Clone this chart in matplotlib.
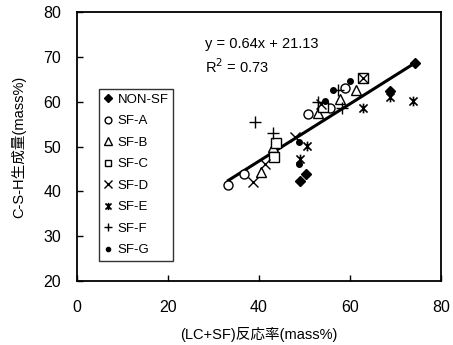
import numpy as np
import matplotlib
matplotlib.use('Agg')
import matplotlib.pyplot as plt
from matplotlib.path import Path

plt.rcParams['font.family'] = ['Liberation Sans', 'Noto Sans CJK JP', 'DejaVu Sans']

# Data: (LC+SF) reaction rate vs C-S-H amount
nonsf_x = [74.3, 68.75, 49.1, 50.3]
nonsf_y = [68.7, 62.4, 42.4, 43.8]
sfa_x = [33.3, 36.7, 50.7, 55.6, 58.9]
sfa_y = [41.4, 43.8, 57.2, 58.5, 63.0]
sfb_x = [40.4, 43.0, 52.9, 57.8, 61.3]
sfb_y = [44.4, 49.9, 57.4, 60.7, 62.6]
sfc_x = [43.4, 43.8, 54.1, 62.9]
sfc_y = [47.6, 50.9, 58.9, 65.3]
sfd_x = [38.6, 41.3, 47.9, 53.6, 62.9]
sfd_y = [42.1, 46.0, 52.2, 59.4, 65.3]
sfe_x = [49.0, 50.5, 62.9, 68.75, 73.9]
sfe_y = [47.3, 50.2, 58.5, 61.1, 60.2]
sff_x = [39.1, 43.2, 53.0, 57.4, 58.2]
sff_y = [55.4, 53.1, 60.0, 62.6, 58.6]
sfg_x = [48.9, 48.9, 54.6, 56.3, 60.0]
sfg_y = [46.1, 51.1, 60.2, 62.6, 64.6]

slope = 0.64
intercept = 21.13
r2 = 0.73

# X with a vertical bar through it (asterisk-like marker)
star_path = Path([(-1, -1), (1, 1), (-1, 1), (1, -1), (0, -1.2), (0, 1.2)],
                 [Path.MOVETO, Path.LINETO, Path.MOVETO, Path.LINETO,
                  Path.MOVETO, Path.LINETO])

fig = plt.figure(figsize=(4.53, 3.45), dpi=100)
ax = fig.add_axes([0.169, 0.1855, 0.805, 0.7795])

series = [
    ('NON-SF', nonsf_x, nonsf_y, dict(marker='D', ms=5.5, mfc='black', mec='black')),
    ('SF-A', sfa_x, sfa_y, dict(marker='o', ms=6.5, mfc='white', mec='black', mew=1.0)),
    ('SF-B', sfb_x, sfb_y, dict(marker='^', ms=7.5, mfc='white', mec='black', mew=1.0)),
    ('SF-C', sfc_x, sfc_y, dict(marker='s', ms=6.5, mfc='white', mec='black', mew=1.0)),
    ('SF-D', sfd_x, sfd_y, dict(marker='x', ms=7, mec='black', mew=1.0)),
    ('SF-E', sfe_x, sfe_y, dict(marker=star_path, ms=7, mfc='none', mec='black', mew=1.2)),
    ('SF-F', sff_x, sff_y, dict(marker='+', ms=8, mec='black', mew=1.0)),
    ('SF-G', sfg_x, sfg_y, dict(marker='o', ms=4, mfc='black', mec='black')),
]

for name, xs, ys, style in series:
    ax.plot(xs, ys, linestyle='none', label=name, **style)

# Regression line across the data range
all_x = np.concatenate([s[1] for s in series])
fit_x = np.array([all_x.min(), all_x.max()])
ax.plot(fit_x, slope * fit_x + intercept, color='black', lw=2.2, zorder=1)

ax.text(28.2, 72.0, f'y = {slope:.2f}x + {intercept:.2f}', fontsize=10.5)
ax.text(28.2, 66.4, f'R$^2$ = {r2:.2f}', fontsize=10.5)

ax.set_xlim(0, 80)
ax.set_ylim(20, 80)
ax.set_xticks([0, 20, 40, 60, 80])
ax.set_yticks([20, 30, 40, 50, 60, 70, 80])
ax.tick_params(direction='in', length=4, width=1, labelsize=11.5)
ax.tick_params(axis='x', pad=14)
ax.tick_params(axis='y', pad=11)
for sp in ax.spines.values():
    sp.set_linewidth(1.3)

ax.set_xlabel('(LC+SF)反応率(mass%)', fontsize=10.5)
ax.set_ylabel('C-S-H生成量(mass%)', fontsize=10.5)
ax.xaxis.set_label_coords(0.5, -0.172)
ax.yaxis.set_label_coords(-0.137, 0.5)

leg = ax.legend(loc='upper left', bbox_to_anchor=(0.062, 0.714), fontsize=9.5,
                frameon=True, fancybox=False, edgecolor='black',
                handlelength=0.7, handletextpad=0.35, labelspacing=0.7,
                borderpad=0.35, borderaxespad=0, markerscale=0.75)
leg.get_frame().set_linewidth(1.0)

fig.savefig('out.png', dpi=100)
